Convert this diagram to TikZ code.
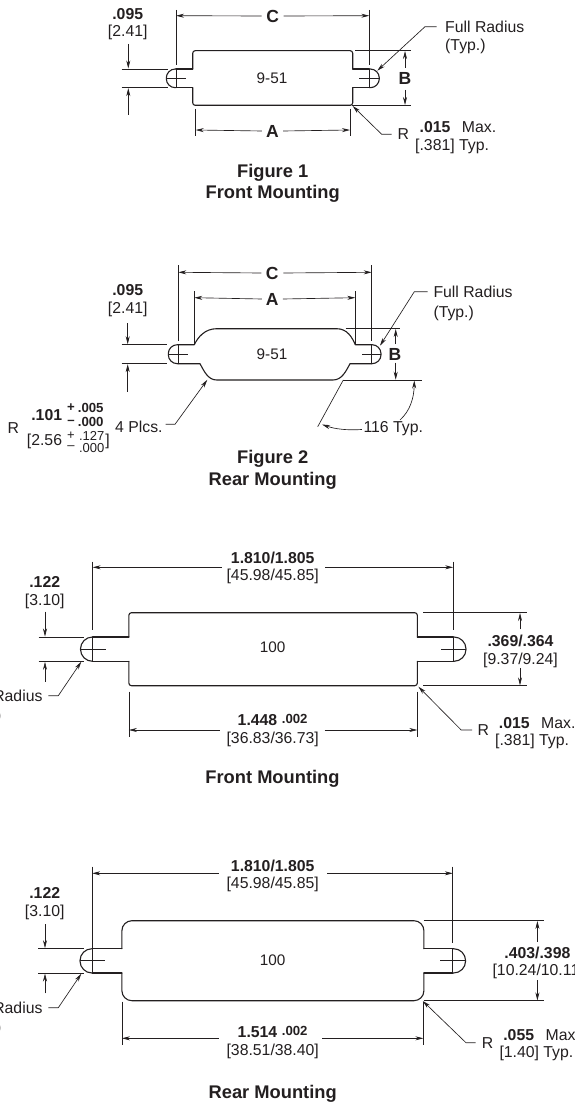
\documentclass[tikz,border=0pt]{standalone}
\usepackage{fontspec}
\setmainfont{Liberation Sans}
\usetikzlibrary{arrows.meta}
\definecolor{ink}{HTML}{231F20}
\tikzset{
  body/.style={draw=ink,line width=1.1pt,line join=round,line cap=round},
  thinl/.style={draw=ink,line width=0.65pt},
  dimarrow/.style={draw=ink,line width=0.65pt,-{Stealth[length=8pt,width=4pt]}},
  lab/.style={inner sep=0pt,text=ink,font=\fontsize{15.8}{18}\selectfont},
  mid/.style={inner sep=0pt,text=ink,font=\fontsize{15.3}{18}\selectfont},
  bf/.style={inner sep=0pt,text=ink,font=\fontsize{15.8}{18}\selectfont\bfseries},
  small/.style={inner sep=0pt,text=ink,font=\fontsize{13.2}{15}\selectfont\bfseries},
  smallr/.style={inner sep=0pt,text=ink,font=\fontsize{13}{15}\selectfont},
  big/.style={inner sep=0pt,text=ink,font=\fontsize{17.5}{20}\selectfont\bfseries},
  title/.style={inner sep=0pt,text=ink,font=\fontsize{18.3}{21}\selectfont\bfseries}
}
\begin{document}
\begin{tikzpicture}[x=1pt,y=-1pt]
\useasboundingbox (0,0) rectangle (574,1105);
\clip (0,0) rectangle (574,1105);
\fill[white] (0,0) rectangle (574,1105);
% ---------- Figure 1
\draw[body] (176,69) -- (192.7,69) (352.7,69) -- (369.3,69) (176,87.7) -- (192.7,87.7) (352.7,87.7) -- (369.3,87.7);
\draw[body,rounded corners=2.5] (192.7,69) -- (192.7,50.7) -- (352.7,50.7) -- (352.7,69);
\draw[body,rounded corners=2.5] (192.7,87.7) -- (192.7,105.3) -- (352.7,105.3) -- (352.7,87.7);
\draw[body,rounded corners=9] (176,69) -- (166.3,69) -- (166.3,87.7) -- (176,87.7);
\draw[body,rounded corners=9] (369.3,69) -- (379.3,69) -- (379.3,87.7) -- (369.3,87.7);
\draw[thinl] (166.3,78.3) -- (186,78.3) (359.3,78.3) -- (379.3,78.3);
\draw[thinl] (176,10) -- (176,65) (176,69) -- (176,87.7) (369.3,10) -- (369.3,65) (369.3,69) -- (369.3,87.7);
\node[big] (f1c) at (272.7,16) {C};
\draw[dimarrow] (f1c.west) ++(-4.5,0) -- (176,15.7);
\draw[dimarrow] (f1c.east) ++(4.5,0) -- (369.3,15.7);
\draw[thinl] (195.7,109) -- (195.7,135.7) (350,109) -- (350,135.7);
\node[big] (f1a) at (272.5,131) {A};
\draw[dimarrow] (f1a.west) ++(-4,0) -- (195.7,130);
\draw[dimarrow] (f1a.east) ++(4,0) -- (350,130);
\draw[thinl] (355,50.7) -- (410.7,50.7) (352,105.3) -- (410.7,105.3);
\node[big] (f1b) at (405,78.5) {B};
\draw[dimarrow] (405,68) -- (405,51);
\draw[dimarrow] (405,90) -- (405,105);
\node[bf] (f1d) at (127.7,14) {.095};
\node[lab] (f1m) at (127.7,32.3) {[2.41]};
\draw[thinl] (121.7,69) -- (167.7,69) (121.7,87.7) -- (167.7,87.7);
\draw[dimarrow] (128.3,44) -- (128.3,68.5);
\draw[dimarrow] (128.3,115) -- (128.3,88.2);
\node[lab,anchor=west] (f1f) at (445,26.7) {Full Radius};
\node[lab,anchor=west] (f1t) at (445,46.7) {(Typ.)};
\draw[dimarrow] (f1f.west) ++(-8.3,0) -- (425,26.7) -- (377.3,70.7);
\node[lab] (f1r) at (403.3,134) {R};
\node[bf] (f1v) at (435,126.7) {.015};
\node[lab,anchor=west] (f1x) at (461.7,126.7) {Max.};
\node[lab,anchor=west] (f1w) at (415,146) {[.381] Typ.};
\draw[dimarrow] (391.7,134.3) -- (381.7,134.3) -- (352.7,106);
\node[title] (f1n) at (272.7,173) {Figure 1};
\node[title] (f1s) at (272.7,194) {Front Mounting};
\node[mid] (f1i) at (272,78) {9-51};
% ---------- Figure 2
\draw[body] (178.3,344.7) -- (194.3,344.7) .. controls (198,337) and (205,328.7) .. (216.7,328.7) -- (336.7,328.7) .. controls (347,328.7) and (352,337) .. (355.3,344.7) -- (371.7,344.7);
\draw[body] (178.3,363.7) -- (200,363.7) .. controls (204,371) and (208,380) .. (216.7,380) -- (333,380) .. controls (342,380) and (346,371) .. (350,363.7) -- (371.7,363.7);
\draw[body,rounded corners=9] (178.3,344.7) -- (168.3,344.7) -- (168.3,363.7) -- (178.3,363.7);
\draw[body,rounded corners=9] (371.7,344.7) -- (381,344.7) -- (381,363.7) -- (371.7,363.7);
\draw[thinl] (168.3,354) -- (188.3,354) (362.3,354) -- (381,354);
\draw[thinl] (178.3,265) -- (178.3,341) (178.3,344.7) -- (178.3,363.7) (371.7,265) -- (371.7,341) (371.7,344.7) -- (371.7,363.7);
\node[big] (f2c) at (272.3,273) {C};
\draw[dimarrow] (f2c.west) ++(-4.5,0) -- (178.3,272.3);
\draw[dimarrow] (f2c.east) ++(4.5,0) -- (371.7,272.3);
\draw[thinl] (194.3,291) -- (194.3,345) (355.3,291) -- (355.3,345);
\node[big] (f2a) at (272.3,299) {A};
\draw[dimarrow] (f2a.west) ++(-4,0) -- (194.3,297.7);
\draw[dimarrow] (f2a.east) ++(4,0) -- (355.3,297.7);
\draw[thinl] (345.7,328.7) -- (400,328.7) (343,380) -- (421.7,380);
\node[big] (f2b) at (395,354.5) {B};
\draw[dimarrow] (395.7,344) -- (395.7,329);
\draw[dimarrow] (395.7,362.7) -- (395.7,379.7);
\node[bf] (f2d) at (127.7,290) {.095};
\node[lab] (f2m) at (127.7,309.3) {[2.41]};
\draw[thinl] (121.7,344.7) -- (167.3,344.7) (121.7,363.7) -- (167.3,363.7);
\draw[dimarrow] (127.7,323) -- (127.7,344.2);
\draw[dimarrow] (127.7,391.7) -- (127.7,364.2);
\node[lab,anchor=west] (f2f) at (433.3,291.7) {Full Radius};
\node[lab,anchor=west] (f2t) at (433.3,313) {(Typ.)};
\draw[dimarrow] (f2f.west) ++(-5.6,0) -- (414.3,291.7) -- (380,345.7);
\node[lab] (f2p) at (13.3,428) {R};
\node[bf] (f2v) at (46.7,415) {.101};
\node[small] (f2pl) at (71,408) {+};
\node[small] (f2ph) at (90.7,408) {.005};
\node[small] (f2ml) at (71,422) {–};
\node[small] (f2mh) at (90.7,422) {.000};
\node[lab,anchor=west] (f2w) at (26.7,441.7) {[2.56};
\node[smallr] (f2q) at (71,435.7) {+};
\node[smallr] (f2qh) at (91.7,435.7) {.127};
\node[smallr] (f2u) at (71,447.7) {–};
\node[smallr] (f2uh) at (91.7,447.7) {.000};
\node[lab] (f2z) at (107.5,441.7) {]};
\node[lab,anchor=west] (f2l) at (115,427.3) {4 Plcs.};
\draw[dimarrow] (165.7,424.3) -- (175,424.3) -- (207.3,379.8);
\draw[thinl] (343.3,380) -- (317.7,426.7);
\node[lab,anchor=west] (f2g) at (363.3,429) {116 Typ.};
\draw[dimarrow] (f2g.west) ++(-1.5,0.5) .. controls (347,430.5) and (335,429) .. (322,424.5);
\draw[dimarrow] (400,420) .. controls (410,411) and (414,398) .. (414.3,380.5);
\node[title] (f2n) at (272.7,459.3) {Figure 2};
\node[title] (f2s) at (272.7,480.7) {Rear Mounting};
\node[mid] (f2i) at (272,354) {9-51};
% ---------- Front Mounting 100
\draw[body] (92.6,637) -- (128.9,637) (417.3,637) -- (453.2,637) (92.6,661.3) -- (128.9,661.3) (417.3,661.3) -- (453.2,661.3);
\draw[body,rounded corners=2.5] (128.9,637) -- (128.9,612.7) -- (417.3,612.7) -- (417.3,637);
\draw[body,rounded corners=2.5] (128.9,661.3) -- (128.9,685.7) -- (417.3,685.7) -- (417.3,661.3);
\draw[body,rounded corners=12] (92.6,637) -- (80.5,637) -- (80.5,661.3) -- (92.6,661.3);
\draw[body,rounded corners=12] (453.2,637) -- (466,637) -- (466,661.3) -- (453.2,661.3);
\draw[thinl] (80.5,649) -- (106,649) (441,649) -- (466,649);
\draw[thinl] (92.6,561.7) -- (92.6,630) (92.6,637) -- (92.6,661.3) (453.2,561.7) -- (453.2,630) (453.2,637) -- (453.2,661.3);
\node[bf] (f3c) at (272.7,557.7) {1.810/1.805};
\node[lab] (f3m) at (272.7,576.7) {[45.98/45.85]};
\draw[dimarrow] (221.5,567.3) -- (92.6,567.3);
\draw[dimarrow] (325,567.3) -- (453.2,567.3);
\draw[thinl] (128.9,691.7) -- (128.9,736.7) (417.3,691.7) -- (417.3,736.7);
\node[bf] (f3a) at (257.5,720) {1.448};
\node[small] (f3t) at (294.7,719) {.002};
\node[lab] (f3b) at (272.7,739) {[36.83/36.73]};
\draw[dimarrow] (219.7,730) -- (128.9,730);
\draw[dimarrow] (324.7,730) -- (417.3,730);
\draw[thinl] (423,612.7) -- (527,612.7) (423,685.7) -- (527,685.7);
\draw[dimarrow] (520,629.3) -- (520,613);
\draw[dimarrow] (520,668.3) -- (520,685.4);
\node[bf] (f3h) at (520.5,641) {.369/.364};
\node[lab] (f3j) at (520.5,660) {[9.37/9.24]};
\node[bf] (f3d) at (44.7,581.7) {.122};
\node[lab] (f3e) at (44.7,601.7) {[3.10]};
\draw[thinl] (38.5,637) -- (84,637) (38.5,661.3) -- (84,661.3);
\draw[dimarrow] (45,611.7) -- (45,636.5);
\draw[dimarrow] (45,681.7) -- (45,661.8);
\node[lab,anchor=east] (f3f) at (42.7,695.7) {Full Radius};
\node[lab,anchor=east] (f3k) at (1.7,716) {(Typ.)};
\draw[dimarrow] (f3f.east) ++(5.6,0) -- (58.3,695.7) -- (81.3,661.7);
\node[lab] (f3r) at (483.2,730) {R};
\node[bf] (f3v) at (514.3,722.7) {.015};
\node[lab,anchor=west] (f3x) at (541,722.7) {Max.};
\node[lab,anchor=west] (f3w) at (495,741.7) {[.381] Typ.};
\draw[dimarrow] (472.2,730) -- (461.2,730) -- (418.4,686.7);
\node[title] (f3s) at (272.5,778.7) {Front Mounting};
\node[mid] (f3i) at (272.7,647.7) {100};
% ---------- Rear Mounting 100
\draw[body] (92.2,948.7) -- (121.9,948.7) (423.9,948.7) -- (452.8,948.7) (92.2,973) -- (121.9,973) (423.9,973) -- (452.8,973);
\draw[body,rounded corners=10] (121.9,948.7) -- (121.9,920.7) -- (423.9,920.7) -- (423.9,948.7);
\draw[body,rounded corners=10] (121.9,973) -- (121.9,1000.7) -- (423.9,1000.7) -- (423.9,973);
\draw[body,rounded corners=12] (92.2,948.7) -- (80,948.7) -- (80,973) -- (92.2,973);
\draw[body,rounded corners=12] (452.8,948.7) -- (465.6,948.7) -- (465.6,973) -- (452.8,973);
\draw[thinl] (80,960.8) -- (105,960.8) (440.4,960.8) -- (465.6,960.8);
\draw[thinl] (92.2,866.7) -- (92.2,973) (452.8,866.7) -- (452.8,943.3) (452.8,948.7) -- (452.8,973);
\node[bf] (f4c) at (272.7,865.7) {1.810/1.805};
\node[lab] (f4m) at (272.7,884.3) {[45.98/45.85]};
\draw[dimarrow] (218.6,873.3) -- (92.2,873.3);
\draw[dimarrow] (327,873.3) -- (452.8,873.3);
\draw[thinl] (121.9,1001.7) -- (121.9,1045) (423.4,1001.7) -- (423.4,1045);
\node[bf] (f4a) at (257.5,1031.7) {1.514};
\node[small] (f4t) at (294.7,1030.7) {.002};
\node[lab] (f4b) at (272.7,1051) {[38.51/38.40]};
\draw[dimarrow] (218.6,1038.3) -- (121.9,1038.3);
\draw[dimarrow] (322,1038.3) -- (423.4,1038.3);
\draw[thinl] (423.5,920.7) -- (543.6,920.7) (423.5,1000.7) -- (543.6,1000.7);
\draw[dimarrow] (537.4,941.7) -- (537.4,921);
\draw[dimarrow] (537.4,980) -- (537.4,1000.4);
\node[bf] (f4h) at (537.4,953.3) {.403/.398};
\node[lab,anchor=west] (f4j) at (492.4,971.7) {[10.24/10.11]};
\node[bf] (f4d) at (44.7,893.3) {.122};
\node[lab] (f4e) at (44.7,912.3) {[3.10]};
\draw[thinl] (38,948.7) -- (84,948.7) (38,973) -- (84,973);
\draw[dimarrow] (45,924) -- (45,948.2);
\draw[dimarrow] (45,993.3) -- (45,973.5);
\node[lab,anchor=east] (f4f) at (42.7,1007.7) {Full Radius};
\node[lab,anchor=east] (f4k) at (1.7,1028.3) {(Typ.)};
\draw[dimarrow] (f4f.east) ++(5.6,0) -- (58.3,1007.7) -- (81.3,973.7);
\node[lab] (f4r) at (487.6,1043) {R};
\node[bf] (f4v) at (518.7,1035) {.055};
\node[lab,anchor=west] (f4x) at (545.4,1035) {Max.};
\node[lab,anchor=west] (f4w) at (499.3,1053.5) {[1.40] Typ.};
\draw[dimarrow] (475.7,1042.7) -- (466,1042.7) -- (422.8,1001);
\node[title] (f4s) at (272.7,1094) {Rear Mounting};
\node[mid] (f4i) at (272.7,960.5) {100};
\end{tikzpicture}
\end{document}
